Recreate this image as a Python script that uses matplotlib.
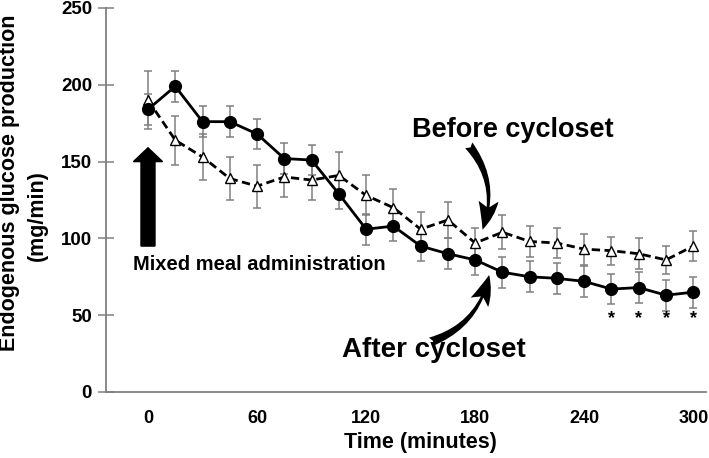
import matplotlib
matplotlib.use("Agg")
import matplotlib.pyplot as plt
from matplotlib.patches import FancyArrow
import numpy as np

plt.rcParams['font.family'] = ['Liberation Sans', 'DejaVu Sans']
plt.rcParams['font.weight'] = 'bold'

# data
time_min = list(range(0, 301, 15))
after_mean = [184, 199, 176, 176, 168, 152, 151, 129, 106, 108, 95, 90, 86,
              78, 75, 74, 72, 67, 68, 63, 65]
after_err = [10, 10, 10, 10, 10, 10, 10, 10, 10, 10, 10, 10, 10,
             10, 10, 10, 10, 10, 10, 10, 10]
before_mean = [190, 164, 153, 139, 134, 140, 138, 141, 128, 120, 106, 112, 97,
               104, 98, 97, 93, 92, 90, 86, 95]
before_err = [19, 16, 15, 14, 14, 13, 13, 15, 13, 12, 11, 12, 10,
              11, 10, 10, 10, 9, 10, 9, 10]
star_times = [255, 270, 285, 300]
x_ticks = [0, 60, 120, 180, 240, 300]
y_ticks = [0, 50, 100, 150, 200, 250]

fig = plt.figure(figsize=(7.09, 4.58), dpi=100)
ax = fig.add_axes([106 / 709, 1 - 392 / 458, 600 / 709, 384 / 458])

err_color = '#808080'
ax.errorbar(time_min, before_mean, yerr=before_err, fmt='none', ecolor=err_color,
            elinewidth=1.1, capsize=3, capthick=1.1, zorder=1)
ax.errorbar(time_min, after_mean, yerr=after_err, fmt='none', ecolor=err_color,
            elinewidth=1.1, capsize=3, capthick=1.1, zorder=1)
ax.plot(time_min, before_mean, color='black', linestyle=(0, (3, 1.6)), linewidth=2,
        marker='^', markersize=7, markerfacecolor='white', markeredgecolor='black',
        markeredgewidth=1.0, zorder=3)
ax.plot(time_min, after_mean, color='black', linestyle='-', linewidth=2,
        marker='o', markersize=8.5, markerfacecolor='black', zorder=4)

for t in star_times:
    ax.text(t, 48, '*', ha='center', va='center', fontsize=13, fontweight='bold')

# meal arrow
ax.add_patch(FancyArrow(0, 95, 0, 64, width=7.7, head_width=16, head_length=9,
                        length_includes_head=True, color='black', zorder=5))
ax.text(-8.5, 79.5, 'Mixed meal administration', fontsize=14.5, fontweight='bold',
        ha='left', va='baseline')

ax.text(145.5, 166, 'Before cycloset', fontsize=19.5, fontweight='bold',
        ha='left', va='baseline')
ax.annotate('', xy=(183.5, 104), xytext=(175.5, 162),
            arrowprops=dict(arrowstyle='fancy,head_length=0.95,head_width=0.65,tail_width=0.3',
                            connectionstyle='arc3,rad=-0.3', color='black', lw=0,
                            mutation_scale=22))
ax.text(107, 23, 'After cycloset', fontsize=20, fontweight='bold',
        ha='left', va='baseline')
ax.annotate('', xy=(188, 78), xytext=(154, 32),
            arrowprops=dict(arrowstyle='fancy,head_length=0.95,head_width=0.65,tail_width=0.3',
                            connectionstyle='arc3,rad=0.3', color='black', lw=0,
                            mutation_scale=22))

ax.set_xlim(-23.1, 307)
ax.set_ylim(0, 250)
ax.set_xticks(x_ticks)
ax.set_yticks(y_ticks)
ax.tick_params(axis='x', length=0, pad=13, labelsize=13)
ax.tick_params(axis='y', direction='inout', length=12, width=1.1, color=err_color,
               pad=4, labelsize=13.5)
for lab in ax.get_xticklabels() + ax.get_yticklabels():
    lab.set_fontweight('bold')
for side in ['top', 'right']:
    ax.spines[side].set_visible(False)
for side in ['left', 'bottom']:
    ax.spines[side].set_color(err_color)
    ax.spines[side].set_linewidth(1.3)

ax.set_xlabel('Time (minutes)', fontsize=15.5, fontweight='bold')
ax.xaxis.set_label_coords((420 - 106) / 600, -(432 - 392) / 384)
fig.text(10 / 709, 1 - 183 / 458, 'Endogenous glucose production', rotation=90,
         fontsize=15.5, fontweight='bold', ha='center', va='center')
fig.text(37 / 709, 1 - 216 / 458, '(mg/min)', rotation=90,
         fontsize=15.5, fontweight='bold', ha='center', va='center')

fig.savefig('out.png', dpi=100)
